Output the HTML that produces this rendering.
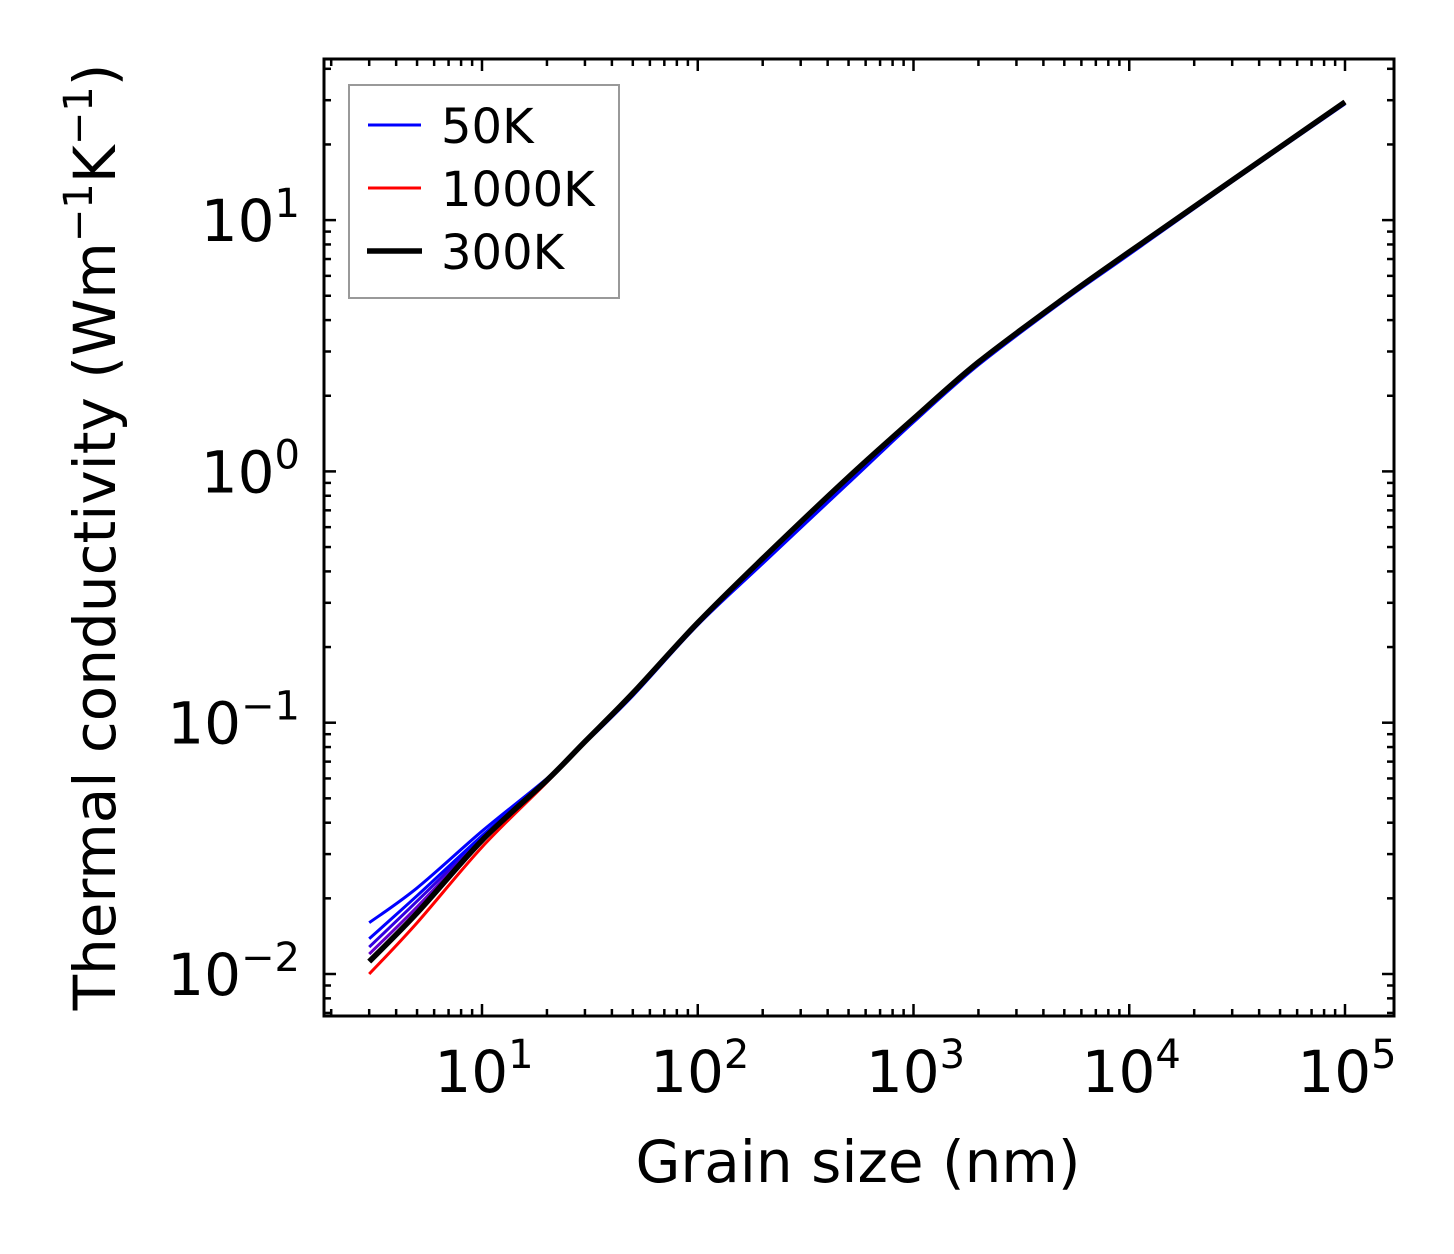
<!DOCTYPE html>
<html><head><meta charset="utf-8"><style>
body{margin:0;background:#fff}
svg{display:block;font-family:"DejaVu Sans","Liberation Sans",sans-serif}
</style></head><body>
<svg id="chart" width="1454" height="1254" viewBox="0 0 1454 1254" xmlns="http://www.w3.org/2000/svg">
<rect width="1454" height="1254" fill="#fff"/>
<g id="ticks"></g>
<g id="series"></g>
<rect x="324" y="59" width="1070" height="957" fill="none" stroke="#000" stroke-width="3"/>
<g id="labels" font-size="58" fill="#000"></g>
<text x="858" y="1182" font-size="58" text-anchor="middle">Grain size (nm)</text>
<text transform="translate(115,537) rotate(-90)" font-size="58" text-anchor="middle">Thermal conductivity (Wm<tspan dy="-23" font-size="40">−1</tspan><tspan dy="23">K</tspan><tspan dy="-23" font-size="40">−1</tspan><tspan dy="23">)</tspan></text>
<g>
<rect x="349" y="85" width="270" height="213" fill="#fff" stroke="#999" stroke-width="2"/>
<line x1="368" y1="125" x2="421" y2="125" stroke="#0000ff" stroke-width="3"/>
<text x="441" y="143" font-size="48">50K</text>
<line x1="368" y1="188" x2="421" y2="188" stroke="#ff0000" stroke-width="3"/>
<text x="441" y="206" font-size="48">1000K</text>
<line x1="367" y1="251" x2="422" y2="251" stroke="#000" stroke-width="5.5"/>
<text x="441" y="269" font-size="48">300K</text>
</g>
</svg>
<script>
const grainSizes=[3,5,10,20,30,50,100,200,500,1000,2000,5000,10000,30000,100000];
const k50=[0.016,0.022,0.037,0.060,0.083,0.128,0.245,0.43,0.9,1.57,2.65,4.8,7.3,14.2,29];
const k100=[0.0138,0.0205,0.0355,0.0595,0.0835,0.129,0.247,0.435,0.91,1.58,2.67,4.83,7.35,14.3,29.2];
const k150=[0.0128,0.0195,0.0348,0.0592,0.084,0.13,0.248,0.44,0.92,1.59,2.69,4.86,7.4,14.35,29.3];
const k200=[0.012,0.0185,0.0343,0.059,0.084,0.13,0.249,0.445,0.93,1.6,2.7,4.88,7.42,14.4,29.4];
const k1000=[0.0100,0.016,0.032,0.058,0.084,0.131,0.25,0.45,0.95,1.62,2.72,4.9,7.47,14.4,29.5];
const k300=[0.0112,0.0175,0.034,0.059,0.084,0.131,0.25,0.45,0.95,1.62,2.72,4.9,7.47,14.4,29.5];
const xTickLabels=["1","2","3","4","5"];
const yTickLabels=["-2","-1","0","1"];
const X=v=>482+(Math.log10(v)-1)*215.75;
const Y=v=>974-(Math.log10(v)+2)*251.3;
const NS="http://www.w3.org/2000/svg";
const sg=document.getElementById('series');
function draw(vals,color,w,name){
 const pts=vals.map((v,i)=>[X(grainSizes[i]),Y(v)]);
 let d='M'+pts[0][0].toFixed(1)+','+pts[0][1].toFixed(1);
 for(let i=0;i<pts.length-1;i++){
  const p0=pts[Math.max(0,i-1)],p1=pts[i],p2=pts[i+1],p3=pts[Math.min(pts.length-1,i+2)];
  const c1=[p1[0]+(p2[0]-p0[0])/6,p1[1]+(p2[1]-p0[1])/6],c2=[p2[0]-(p3[0]-p1[0])/6,p2[1]-(p3[1]-p1[1])/6];
  d+='C'+c1[0].toFixed(1)+','+c1[1].toFixed(1)+' '+c2[0].toFixed(1)+','+c2[1].toFixed(1)+' '+p2[0].toFixed(1)+','+p2[1].toFixed(1);
 }
 const p=document.createElementNS(NS,'path');
 p.setAttribute('d',d);
 p.setAttribute('fill','none');p.setAttribute('stroke',color);p.setAttribute('stroke-width',w);p.setAttribute('stroke-linejoin','round');
 
 
 sg.appendChild(p);
}
draw(k1000,'#ff0000',3,'line-1000k');
draw(k200,'#6600cc',3,'line-200k');
draw(k150,'#3300e0',3,'line-150k');
draw(k100,'#0000ff',3,'line-100k');
draw(k50,'#0000ff',3,'line-50k');
draw(k300,'#000000',5.5,'line-300k');
const tg=document.getElementById('ticks'),lg=document.getElementById('labels');
function line(x1,y1,x2,y2){const l=document.createElementNS(NS,'line');l.setAttribute('x1',x1);l.setAttribute('y1',y1);l.setAttribute('x2',x2);l.setAttribute('y2',y2);l.setAttribute('stroke','#000');l.setAttribute('stroke-width',2.5);
 
 
 tg.appendChild(l);}
for(let d=0;d<=5;d++)for(let m=1;m<10;m++){const x=X(m*Math.pow(10,d));if(x<324||x>1394)continue;const L=m==1?12:7;line(x,1016,x,1016-L);line(x,59,x,59+L);}
for(let d=-3;d<=1;d++)for(let m=1;m<10;m++){const y=Y(m*Math.pow(10,d));if(y<59||y>1016)continue;const L=m==1?12:7;line(324,y,324+L,y);line(1394,y,1394-L,y);}
xTickLabels.forEach(e=>{const t=document.createElementNS(NS,'text');t.setAttribute('x',X(Math.pow(10,+e))+2);t.setAttribute('y',1092);t.setAttribute('text-anchor','middle');
 t.innerHTML='10<tspan dy="-24" font-size="40">'+e+'</tspan>';
 
 
 lg.appendChild(t);});
yTickLabels.forEach(e=>{const t=document.createElementNS(NS,'text');t.setAttribute('x',300);t.setAttribute('y',Y(Math.pow(10,+e))+21);t.setAttribute('text-anchor','end');
 t.innerHTML='10<tspan dy="-24" font-size="40">'+(e.startsWith('-')?'−'+e.slice(1):e)+'</tspan>';
 
 
 lg.appendChild(t);});
</script>
</body></html>
